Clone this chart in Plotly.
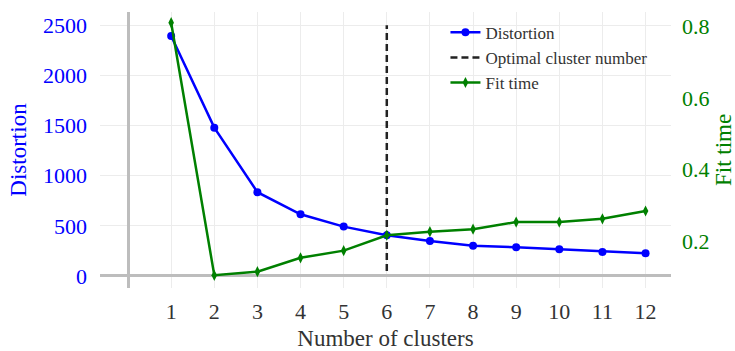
import plotly.graph_objects as go

clusters = [1, 2, 3, 4, 5, 6, 7, 8, 9, 10, 11, 12]
distortion = [2393, 1479, 835, 615, 492, 406, 349, 302, 286, 266, 239, 226]
fit_time = [0.811, 0.104, 0.114, 0.153, 0.173, 0.216, 0.226, 0.233, 0.253, 0.253, 0.262, 0.284]
optimal_k = 6
left_ticks = [0, 500, 1000, 1500, 2000, 2500]
right_ticks = [0.2, 0.4, 0.6, 0.8]

FONT = "Liberation Serif"
BLUE = "#0000ff"
GREEN = "#008000"

fig = go.Figure()
fig.add_trace(go.Scatter(
    x=clusters, y=distortion, name="Distortion", mode="lines+markers",
    line=dict(color=BLUE, width=2.5), marker=dict(symbol="circle", size=8, color=BLUE),
    yaxis="y"))
fig.add_trace(go.Scatter(
    x=[optimal_k, optimal_k], y=[50, 2500], name="Optimal cluster number", mode="lines",
    line=dict(color="#222222", width=2.5, dash="7px,4px"), yaxis="y"))
fig.add_trace(go.Scatter(
    x=clusters, y=fit_time, name="Fit time", mode="lines+markers",
    line=dict(color=GREEN, width=2.5), marker=dict(symbol="diamond-tall", size=8, color=GREEN),
    yaxis="y2"))

fig.update_layout(
    width=735, height=351,
    margin=dict(l=100, r=64, t=12, b=63, autoexpand=False),
    paper_bgcolor="white", plot_bgcolor="white",
    font=dict(family=FONT, size=20, color="#333333"),
    showlegend=True,
    legend=dict(x=0.605, y=0.99, xanchor="left", yanchor="top",
                bgcolor="rgba(0,0,0,0)", font=dict(family=FONT, size=17, color="#333333"),
                tracegroupgap=0, itemwidth=30),
    xaxis=dict(range=[-0.65, 12.59], tickvals=clusters, ticktext=[str(c) for c in clusters],
               showgrid=True, gridcolor="#ececec", gridwidth=1, automargin=False,
               zeroline=True, zerolinecolor="#bdbdbd", zerolinewidth=3,
               showline=False, ticks="", ticklabelstandoff=8,
               tickfont=dict(size=22, color="#333333"),
               title=dict(text="Number of clusters", font=dict(size=23, color="#333333"), standoff=12)),
    yaxis=dict(range=[-120, 2632], tickvals=left_ticks, automargin=False,
               showgrid=True, gridcolor="#ececec", gridwidth=1,
               zeroline=True, zerolinecolor="#bdbdbd", zerolinewidth=3,
               showline=False, ticks="", ticklabelstandoff=12,
               tickfont=dict(size=22, color=BLUE),
               title=dict(text="Distortion", font=dict(size=23, color=BLUE), standoff=9)),
    yaxis2=dict(range=[0.0684, 0.841], tickvals=right_ticks, overlaying="y", side="right",
                showgrid=False, zeroline=False, showline=False, ticks="", automargin=False,
                ticklabelstandoff=10,
                tickfont=dict(size=22, color=GREEN)),
    annotations=[dict(text="Fit time", xref="paper", yref="paper", x=1.0, y=0.5,
                      xshift=52, textangle=-90, showarrow=False,
                      font=dict(family=FONT, size=23, color=GREEN),
                      xanchor="center", yanchor="middle")],
)

fig.write_html("out.html", config={"displayModeBar": False},
               post_script="document.body.style.margin='0';document.body.style.padding='0';")
